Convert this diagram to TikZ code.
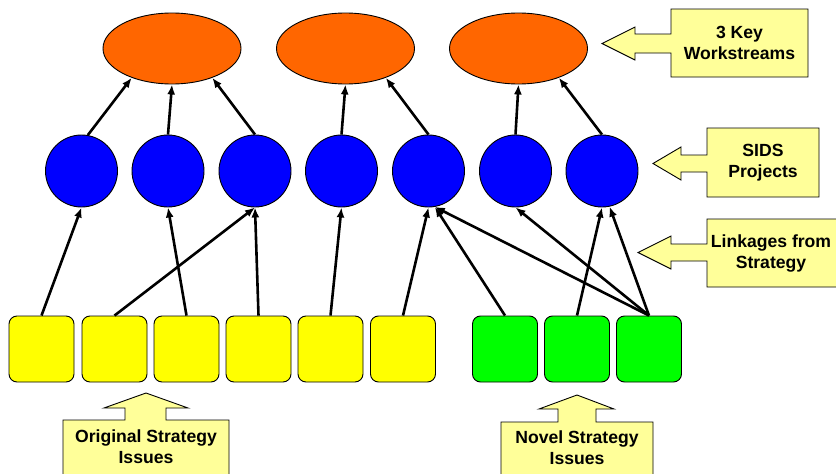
\documentclass[tikz,border=0pt]{standalone}
\usepackage{fontspec}
\setmainfont{Liberation Sans}
\usetikzlibrary{positioning,arrows.meta,shapes.geometric}
\definecolor{streamorange}{HTML}{FF6600}
\definecolor{projectblue}{HTML}{0000FF}
\definecolor{issueyellow}{HTML}{FFFF00}
\definecolor{issuegreen}{HTML}{00FF00}
\definecolor{noteyellow}{HTML}{FFFF99}
\tikzset{stream/.style={ellipse,draw,fill=streamorange,minimum width=138pt,minimum height=71pt,line width=0.9pt},
project/.style={circle,draw,fill=projectblue,minimum size=72pt,line width=0.9pt},
issue/.style={rectangle,rounded corners=8pt,draw,minimum width=65pt,minimum height=66pt,line width=0.9pt},
link/.style={->,>={Latex[length=10pt,width=8pt]},line width=2.6pt},
callout/.style={draw,fill=noteyellow,line width=0.9pt},
notetext/.style={font=\fontsize{17.6}{21}\selectfont\bfseries,align=center},}

\begin{document}
\begin{tikzpicture}[x=1pt,y=-1pt]
\useasboundingbox (0,0) rectangle (836,474);
% workstreams
\node[stream] (e1) at (172,48.5) {};
\node[stream] (e2) at (345.5,48.5) {};
\node[stream] (e3) at (518.5,48.5) {};
% projects
\node[project] (c1) at (81.5,171) {};
\node[project] (c2) at (168,171) {};
\node[project] (c3) at (255,171) {};
\node[project] (c4) at (341.5,171) {};
\node[project] (c5) at (428.5,171) {};
\node[project] (c6) at (515.5,171) {};
\node[project] (c7) at (602,171) {};
% strategy issues
\node[issue,fill=issueyellow] (s1) at (41.5,349) {};
\node[issue,fill=issueyellow] (s2) at (114.5,349) {};
\node[issue,fill=issueyellow] (s3) at (186.5,349) {};
\node[issue,fill=issueyellow] (s4) at (258.5,349) {};
\node[issue,fill=issueyellow] (s5) at (330.5,349) {};
\node[issue,fill=issueyellow] (s6) at (403,349) {};
\node[issue,fill=issuegreen] (g1) at (505,349) {};
\node[issue,fill=issuegreen] (g2) at (577,349) {};
\node[issue,fill=issuegreen] (g3) at (649,349) {};
% projects to workstreams
\draw[link] (c1.80) -- (e1.216);
\draw[link] (c2.north) -- (e1.south);
\draw[link] (c3.north) -- (e1.324);
\draw[link] (c4.north) -- (e2.south);
\draw[link] (c5.north) -- (e2.324);
\draw[link] (c6.north) -- (e3.south);
\draw[link] (c7.north) -- (e3.324);
% linkages
\draw[link] (s1.north) -- (c1.south);
\draw[link] (s3.north) -- (c2.south);
\draw[link] (s2.north) -- (c3.south);
\draw[link] (s4.north) -- (c3.south);
\draw[link] (s5.north) -- (c4.south);
\draw[link] (s6.north) -- (c5.south);
\draw[link] (g1.north) -- (c5.280);
\draw[link] (g2.north) -- (c7.south);
\draw[link] (g3.north) -- (c5.280);
\draw[link] (g3.north) -- (c6.south);
\draw[link] (g3.north) -- (c7.282);
% callouts
\draw[callout] (808,9) -- (671,9) -- (671,34) -- (635,34) -- (635,27) -- (602,43.5) -- (635,60) -- (635,53) -- (671,53) -- (671,77) -- (808,77) -- cycle;
\node[notetext] (n1) at (739.5,43) {3 Key\\Workstreams};
\draw[callout] (819,128) -- (707,128) -- (707,155) -- (681,155) -- (681,147) -- (653,163.5) -- (681,180) -- (681,172) -- (707,172) -- (707,197) -- (819,197) -- cycle;
\node[notetext] (n2) at (763,162.5) {SIDS\\Projects};
\draw[callout] (850,219) -- (707,219) -- (707,244) -- (671,244) -- (671,236) -- (638,252.5) -- (671,269) -- (671,261) -- (707,261) -- (707,287) -- (850,287) -- cycle;
\node[notetext] (n3) at (771,253.5) {Linkages from\\Strategy};
\draw[callout] (63,490) -- (63,420) -- (125,420) -- (125,408) -- (104,408) -- (146,393) -- (188,408) -- (166,408) -- (166,420) -- (229,420) -- (229,490) -- cycle;
\node[notetext] (n4) at (146,446.5) {Original Strategy\\Issues};
\draw[callout] (501,490) -- (501,422) -- (558,422) -- (558,409) -- (539,409) -- (577,395) -- (614,409) -- (596,409) -- (596,422) -- (653,422) -- (653,490) -- cycle;
\node[notetext] (n5) at (577,447.5) {Novel Strategy\\Issues};
\end{tikzpicture}
\end{document}
